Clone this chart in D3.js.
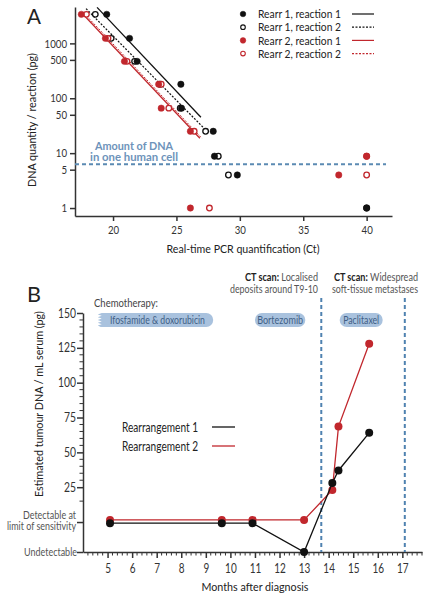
<!DOCTYPE html>
<html><head><meta charset="utf-8">
<script src="https://cdn.jsdelivr.net/npm/d3@7"></script>
<style>body{margin:0;background:#fff}svg{display:block}text{font-family:Lato,"Open Sans",sans-serif}</style>
</head><body><div id="c"></div>
<script>
// ---------- Panel A data ----------
const ctTicks = [20, 25, 30, 35, 40];
const dnaTicks = [1, 5, 10, 50, 100, 500, 1000];
const r1r1Ct  = [19.5, 21.3, 21.9, 25.35, 25.4, 27.9, 28.0, 29.8, 40];
const r1r1Dna = [3380, 1236, 470, 180, 66, 25, 8.8, 4, 1];
const r1r2Ct  = [18.6, 19.85, 21.7, 23.7, 25.3, 27.3, 28.3, 29.1, 40];
const r1r2Dna = [3380, 1236, 470, 180, 66, 25, 8.8, 4, 1];
const r2r1Ct  = [17.5, 19.4, 20.9, 23.6, 23.8, 26.1, 40, 37.8, 26.1];
const r2r1Dna = [3380, 1236, 470, 180, 66, 25, 8.8, 4, 1];
const r2r2Ct  = [17.9, 19.6, 21.1, 23.8, 24.4, 26.4, 40, 40, 27.6];
const r2r2Dna = [3380, 1236, 470, 180, 66, 25, 8.8, 4, 1];
// fitted lines: [ctStart, dnaStart, ctEnd, dnaEnd]
const fitR1R1 = [18.74, 4520, 26.93, 45];
const fitR1R2 = [17.87, 4300, 27.09, 29.7];
const fitR2R1 = [17.56, 3530, 26.85, 18.7];
const fitR2R2 = [17.72, 3530, 27.0, 18.7];
const oneCellDna = 6.3;
const legendA = ["Rearr 1, reaction 1", "Rearr 1, reaction 2", "Rearr 2, reaction 1", "Rearr 2, reaction 2"];

// ---------- Panel B data ----------
const monthTicks = [5,6,7,8,9,10,11,12,13,14,15,16,17];
const serumTicks = [-21.5, 0, 25, 50, 75, 100, 125, 150];
const serumTickLabels = [["Undetectable"], ["Detectable at", "limit of sensitivity"], ["25"], ["50"], ["75"], ["100"], ["125"], ["150"]];
const months1 = [5.1, 9.65, 10.9, 13.0, 14.15, 14.4, 15.65];
const rearr1  = [-0.8, -0.8, -0.8, -21.5, 28, 37, 64];
const months2 = [5.1, 9.65, 10.9, 13.0, 14.15, 14.4, 15.65];
const rearr2  = [1.5, 1.5, 1.5, 1.5, 23, 68.5, 128];
const ctScanMonths = [13.7, 17.1];
const chemoNames = ["Ifosfamide & doxorubicin", "Bortezomib", "Paclitaxel"];
const chemoStart = [4.6, 11.0, 14.45];
const chemoEnd   = [9.3, 13.05, 16.2];

const W = 430, H = 599;
const svg = d3.select("#c").append("svg").attr("width", W).attr("height", H);
const RED = "#c1272d", BLK = "#111", AX = "#333", BLUE = "#4f82b0";
const fit = (sel, w) => sel.attr("textLength", w).attr("lengthAdjust", "spacingAndGlyphs");
function txt(g, x, y, s, opts) {
  const t = g.append("text").attr("x", x).attr("y", y).text(s)
    .attr("font-size", opts.fs || 12).attr("fill", opts.fill || "#222")
    .attr("text-anchor", opts.anchor || "start");
  if (opts.bold) t.attr("font-weight", "bold");
  if (opts.w) fit(t, opts.w);
  return t;
}

// ===== Panel A =====
const xA = d3.scaleLinear().domain([17, 42]).range([75, 392]);
const yA = d3.scaleLog().domain([0.716, 4600]).range([216, 7]);
const gA = svg.append("g");
txt(gA, 27, 24, "A", {fs: 22, w: 14});

const axAx = gA.append("g").attr("transform", "translate(0,216)")
  .call(d3.axisBottom(xA).tickValues(ctTicks).tickSize(5).tickSizeOuter(0).tickPadding(5));
const axAy = gA.append("g").attr("transform", "translate(75,0)")
  .call(d3.axisLeft(yA).tickValues(dnaTicks).tickFormat(d3.format("d")).tickSize(5).tickSizeOuter(0).tickPadding(3));
[axAx, axAy].forEach(a => {
  a.selectAll("path,line").attr("stroke", AX).attr("stroke-width", 1.5);
  a.selectAll("text").attr("font-size", 11.5).attr("fill", "#333")
    .attr("textLength", function () { return this.textContent.length * 5.6; }).attr("lengthAdjust", "spacingAndGlyphs");
});
txt(gA, 243, 253, "Real-time PCR quantification (Ct)", {fs: 12, anchor: "middle", w: 153});
fit(gA.append("text").attr("transform", "translate(36,120) rotate(-90)").attr("text-anchor", "middle")
  .attr("font-size", 12).attr("fill", "#222").text("DNA quantity / reaction (pg)"), 134);

// one-cell line
gA.append("line").attr("x1", 75).attr("x2", 386).attr("y1", yA(oneCellDna)).attr("y2", yA(oneCellDna))
  .attr("stroke", "#5b8ab3").attr("stroke-width", 2).attr("stroke-dasharray", "4,3");
txt(gA, 134, 149.5, "Amount of DNA", {fs: 11, anchor: "middle", bold: true, fill: "#6d93ba", w: 78});
txt(gA, 134, 161, "in one human cell", {fs: 11, anchor: "middle", bold: true, fill: "#6d93ba", w: 88});

// fit lines
const fits = [[fitR2R2, RED, "2,1.5", 1], [fitR2R1, RED, null, 1.3], [fitR1R2, BLK, "2,1.5", 1.2], [fitR1R1, BLK, null, 1.3]];
fits.forEach(([f, c, dash, w]) => {
  const l = gA.append("line").attr("x1", xA(f[0])).attr("y1", yA(f[1])).attr("x2", xA(f[2])).attr("y2", yA(f[3]))
    .attr("stroke", c).attr("stroke-width", w);
  if (dash) l.attr("stroke-dasharray", dash);
});
function pts(cts, dnas, color, filled) {
  gA.append("g").selectAll("circle").data(cts.map((c, i) => [c, dnas[i]])).join("circle")
    .attr("cx", d => xA(d[0])).attr("cy", d => yA(d[1])).attr("r", filled ? 3.2 : 2.8)
    .attr("fill", filled ? color : "#fff").attr("stroke", color).attr("stroke-width", filled ? 0.5 : 1.3);
}
pts(r1r2Ct, r1r2Dna, BLK, false);
pts(r2r2Ct, r2r2Dna, RED, false);
pts(r1r1Ct, r1r1Dna, BLK, true);
pts(r2r1Ct, r2r1Dna, RED, true);

// legend A
const legA = [[BLK, true, null], [BLK, false, "2,1.5"], [RED, true, null], [RED, false, "2,1.5"]];
legendA.forEach((t, i) => {
  const y = 14 + i * 13.2;
  const [c, f, dash] = legA[i];
  gA.append("circle").attr("cx", 243).attr("cy", y).attr("r", f ? 2.8 : 2.3)
    .attr("fill", f ? c : "#fff").attr("stroke", c).attr("stroke-width", f ? 0.5 : 1.1);
  txt(gA, 258, y + 4.2, t, {fs: 11.5, w: 83});
  const l = gA.append("line").attr("x1", 352).attr("x2", 374).attr("y1", y).attr("y2", y).attr("stroke", c).attr("stroke-width", 1.2);
  if (dash) l.attr("stroke-dasharray", dash);
});

// ===== Panel B =====
const xB = d3.scaleLinear().domain([4, 17.8]).range([83, 422]);
const yB = d3.scaleLinear().domain([-21.5, 150]).range([552, 313]);
const gB = svg.append("g");
txt(gB, 27, 302, "B", {fs: 22, w: 14});

const minorX = d3.range(4.2, 17.81, 0.2).filter(v => Math.abs(v - Math.round(v)) > 0.05);
gB.append("g").selectAll("line").data(minorX).join("line")
  .attr("x1", d => xB(d)).attr("x2", d => xB(d)).attr("y1", 552).attr("y2", 555.5).attr("stroke", AX).attr("stroke-width", 1);
const minorY = d3.range(30, 150, 5).filter(v => v % 25 !== 0).concat([15]);
gB.append("g").selectAll("line").data(minorY).join("line")
  .attr("x1", 79.5).attr("x2", 83).attr("y1", d => yB(d)).attr("y2", d => yB(d)).attr("stroke", AX).attr("stroke-width", 1);

const axBx = gB.append("g").attr("transform", "translate(0,552)")
  .call(d3.axisBottom(xB).tickValues(monthTicks).tickFormat(d3.format("d")).tickSize(6).tickSizeOuter(0).tickPadding(6));
const axBy = gB.append("g").attr("transform", "translate(83,0)")
  .call(d3.axisLeft(yB).tickValues(serumTicks).tickFormat("").tickSize(6).tickSizeOuter(0));
[axBx, axBy].forEach(a => a.selectAll("path,line").attr("stroke", AX).attr("stroke-width", 1.5));
axBx.selectAll("text").attr("font-size", 12.5).attr("fill", "#333")
  .attr("textLength", function () { return this.textContent.length * 5.8; }).attr("lengthAdjust", "spacingAndGlyphs");
serumTicks.forEach((v, i) => {
  const lines = serumTickLabels[i];
  if (lines.length === 1 && lines[0].length <= 4) {
    txt(gB, 76, yB(v) + 4.5, lines[0], {fs: 12.5, anchor: "end", fill: "#333", w: lines[0].length * 6});
  } else if (lines.length === 1) {
    txt(gB, 77, yB(v) + 4, lines[0], {fs: 10.5, anchor: "end", fill: "#555", w: 53});
  } else {
    txt(gB, 76, yB(v) - 3, lines[0], {fs: 10.5, anchor: "end", fill: "#555", w: 53});
    txt(gB, 76, yB(v) + 7.5, lines[1], {fs: 10.5, anchor: "end", fill: "#555", w: 69});
  }
});
txt(gB, 255, 591, "Months after diagnosis", {fs: 12, anchor: "middle", w: 107});
fit(gB.append("text").attr("transform", "translate(43,404) rotate(-90)").attr("text-anchor", "middle")
  .attr("font-size", 12).attr("fill", "#222").text("Estimated tumour DNA / mL serum (pg)"), 186);

// CT scan lines
gB.append("g").selectAll("line").data(ctScanMonths).join("line")
  .attr("x1", d => xB(d)).attr("x2", d => xB(d)).attr("y1", 298).attr("y2", 552)
  .attr("stroke", BLUE).attr("stroke-width", 2).attr("stroke-dasharray", "4,3");
function ct(xStart, xEnd, rest, line2, w2) {
  const t = gB.append("text").attr("x", xEnd).attr("y", 281).attr("text-anchor", "end")
    .attr("font-size", 10.5).attr("fill", "#555");
  t.append("tspan").attr("font-weight", "bold").attr("fill", "#222").text("CT scan:");
  t.append("tspan").text(" " + rest);
  fit(t, xEnd - xStart);
  txt(gB, xEnd, 292.5, line2, {fs: 10.5, anchor: "end", fill: "#555", w: w2});
}
ct(245, 318, "Localised", "deposits around T9-10", 88);
ct(334, 418, "Widespread", "soft-tissue metastases", 86);

// chemo pills
txt(gB, 94, 307, "Chemotherapy:", {fs: 10.5, fill: "#444", w: 64});
const pillW = [95, 46, 36];
chemoNames.forEach((n, i) => {
  const x0 = xB(chemoStart[i]), x1 = xB(chemoEnd[i]), y0 = 313, h = 14, r = h / 2;
  let p;
  if (i === 0) {
    p = `M${x0 + 3},${y0} L${x1 - r},${y0} A${r},${r} 0 0 1 ${x1 - r},${y0 + h} L${x0 + 3},${y0 + h}`;
    const teeth = 5;
    for (let k = teeth * 2 - 1; k >= 0; k--) {
      const yy = y0 + h * k / (teeth * 2);
      p += ` L${k % 2 ? x0 : x0 + 4},${yy}`;
    }
    p += "Z";
  } else {
    p = `M${x0 + r},${y0} L${x1 - r},${y0} A${r},${r} 0 0 1 ${x1 - r},${y0 + h} L${x0 + r},${y0 + h} A${r},${r} 0 0 1 ${x0 + r},${y0}Z`;
  }
  gB.append("path").attr("d", p).attr("fill", "#a9c2de");
  txt(gB, (x0 + x1) / 2 + (i === 0 ? 2 : 0), y0 + 10.5, n, {fs: 10.5, anchor: "middle", fill: "#3f5f86", w: pillW[i]});
});

// series
const line = d3.line().x(d => xB(d[0])).y(d => yB(d[1]));
const s1 = months1.map((m, i) => [m, rearr1[i]]);
const s2 = months2.map((m, i) => [m, rearr2[i]]);
gB.append("path").datum(s2).attr("d", line).attr("fill", "none").attr("stroke", RED).attr("stroke-width", 1.3);
gB.append("g").selectAll("circle").data(s2).join("circle").attr("cx", d => xB(d[0])).attr("cy", d => yB(d[1])).attr("r", 4).attr("fill", RED);
gB.append("path").datum(s1).attr("d", line).attr("fill", "none").attr("stroke", BLK).attr("stroke-width", 1.3);
gB.append("g").selectAll("circle").data(s1).join("circle").attr("cx", d => xB(d[0])).attr("cy", d => yB(d[1])).attr("r", 4).attr("fill", BLK);

// legend B
[["Rearrangement 1", BLK, 427], ["Rearrangement 2", RED, 446]].forEach(([t, c, y]) => {
  txt(gB, 122, y + 4.5, t, {fs: 12.5, w: 76});
  gB.append("line").attr("x1", 212).attr("x2", 235).attr("y1", y).attr("y2", y).attr("stroke", c).attr("stroke-width", 1.3);
});
</script></body></html>
